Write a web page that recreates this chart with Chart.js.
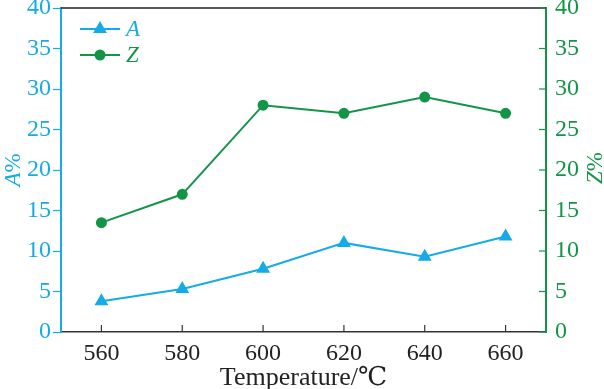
<!DOCTYPE html>
<html>
<head>
<meta charset="utf-8">
<script src="https://cdn.jsdelivr.net/npm/chart.js@4/dist/chart.umd.min.js"></script>
<style>
  html, body { margin: 0; padding: 0; background: #fff; }
  #wrap { width: 604px; height: 389px; }
</style>
</head>
<body>
<div id="wrap"><canvas id="c" width="604" height="389"></canvas></div>
<script>
// data
const temps = [560, 580, 600, 620, 640, 660];
const aVals = [3.8, 5.3, 7.8, 11.0, 9.3, 11.8];
const zVals = [13.5, 17.0, 28.0, 27.0, 29.0, 27.0];
const xTicks = [560, 580, 600, 620, 640, 660];
const yTicks = [0, 5, 10, 15, 20, 25, 30, 35, 40];

const CYAN = '#14abe6';
const GREEN = '#139447';
const SERIF = "'Liberation Serif', 'DejaVu Serif', serif";

const pts = vals => temps.map((t, i) => ({ x: t, y: vals[i] }));

// y axes: let the "40" label hang over the top padding
const fitY = w => s => {
  s.width = w;
  s.paddingTop = 0;
  s.paddingBottom = 0;
};

// inward ticks on bottom/right, top frame line, legend, rotated titles
const decor = {
  id: 'decor',
  afterDraw(chart) {
    const { ctx, chartArea: ca, scales } = chart;
    ctx.save();
    // top frame
    ctx.strokeStyle = '#222';
    ctx.lineWidth = 1.5;
    ctx.beginPath();
    ctx.moveTo(ca.left, ca.top);
    ctx.lineTo(ca.right, ca.top);
    ctx.stroke();

    // bottom ticks pointing up
    ctx.strokeStyle = '#333';
    ctx.lineWidth = 1.2;
    xTicks.forEach(v => {
      const x = scales.x.getPixelForValue(v);
      ctx.beginPath();
      ctx.moveTo(x, ca.bottom);
      ctx.lineTo(x, ca.bottom - 7);
      ctx.stroke();
    });
    // right ticks pointing left
    ctx.strokeStyle = GREEN;
    yTicks.forEach(v => {
      const y = scales.yZ.getPixelForValue(v);
      ctx.beginPath();
      ctx.moveTo(ca.right, y);
      ctx.lineTo(ca.right - 7, y);
      ctx.stroke();
    });

    // legend
    const items = [
      { label: 'A', color: CYAN, style: 'triangle', y: 29 },
      { label: 'Z', color: GREEN, style: 'circle', y: 55 }
    ];
    items.forEach(it => {
      ctx.strokeStyle = it.color;
      ctx.fillStyle = it.color;
      ctx.lineWidth = 2;
      ctx.beginPath();
      ctx.moveTo(80, it.y);
      ctx.lineTo(120, it.y);
      ctx.stroke();
      Chart.helpers.drawPoint(ctx, { pointStyle: it.style, radius: it.style === 'triangle' ? 6 : 4.5, borderWidth: 1 }, 100, it.y);
      ctx.font = 'italic 23px ' + SERIF;
      ctx.textBaseline = 'middle';
      ctx.textAlign = 'left';
      ctx.fillText(it.label, 126, it.y + 1);
    });

    // axis titles (rotated, reading upward)
    const title = (x, y, letter, color) => {
      ctx.save();
      ctx.translate(x, y);
      ctx.rotate(-Math.PI / 2);
      ctx.fillStyle = color;
      ctx.textBaseline = 'middle';
      ctx.textAlign = 'left';
      ctx.font = 'italic 23px ' + SERIF;
      const w1 = ctx.measureText(letter).width;
      ctx.font = '23px ' + SERIF;
      const w2 = ctx.measureText('%').width;
      const sx = -(w1 + w2) / 2;
      ctx.font = 'italic 23px ' + SERIF;
      ctx.fillText(letter, sx, 0);
      ctx.font = '23px ' + SERIF;
      ctx.fillText('%', sx + w1, 0);
      ctx.restore();
    };
    title(14, 170, 'A', CYAN);
    title(596, 168, 'Z', GREEN);
    ctx.restore();
  }
};

new Chart(document.getElementById('c'), {
  type: 'line',
  data: {
    datasets: [
      {
        label: 'A', data: pts(aVals), yAxisID: 'yA',
        borderColor: CYAN, backgroundColor: CYAN, borderWidth: 2,
        pointStyle: 'triangle', pointRadius: 6, pointHoverRadius: 6
      },
      {
        label: 'Z', data: pts(zVals), yAxisID: 'yZ',
        borderColor: GREEN, backgroundColor: GREEN, borderWidth: 2,
        pointStyle: 'circle', pointRadius: 4.5, pointHoverRadius: 4.5
      }
    ]
  },
  options: {
    responsive: false,
    animation: false,
    events: [],
    layout: { padding: { top: 7, left: 0, right: 0, bottom: 0 } },
    plugins: { legend: { display: false }, tooltip: { enabled: false } },
    scales: {
      x: {
        type: 'linear', min: 550, max: 670,
        afterBuildTicks: s => { s.ticks = xTicks.map(v => ({ value: v })); },
        afterFit: s => { s.height = 57; s.paddingLeft = 0; s.paddingRight = 0; },
        grid: { drawOnChartArea: false, drawTicks: false },
        border: { color: '#333', width: 1.5 },
        ticks: { color: '#222', padding: 7, font: { family: SERIF, size: 24 } },
        title: {
          display: true, text: 'Temperature/℃', color: '#222', padding: { top: 0, bottom: -5 },
          font: { family: SERIF, size: 26 }
        }
      },
      yA: {
        position: 'left', min: 0, max: 40,
        afterBuildTicks: s => { s.ticks = yTicks.map(v => ({ value: v })); },
        afterFit: fitY(61),
        grid: { drawOnChartArea: false, drawTicks: true, tickLength: 8, color: CYAN, tickWidth: 1.2 },
        border: { color: CYAN, width: 2 },
        ticks: { color: CYAN, padding: 2, font: { family: SERIF, size: 24 } }
      },
      yZ: {
        position: 'right', min: 0, max: 40,
        afterBuildTicks: s => { s.ticks = yTicks.map(v => ({ value: v })); },
        afterFit: fitY(58),
        grid: { drawOnChartArea: false, drawTicks: false },
        border: { color: GREEN, width: 2 },
        ticks: { color: GREEN, padding: 9, font: { family: SERIF, size: 24 } }
      }
    }
  },
  plugins: [decor]
});
</script>
</body>
</html>
